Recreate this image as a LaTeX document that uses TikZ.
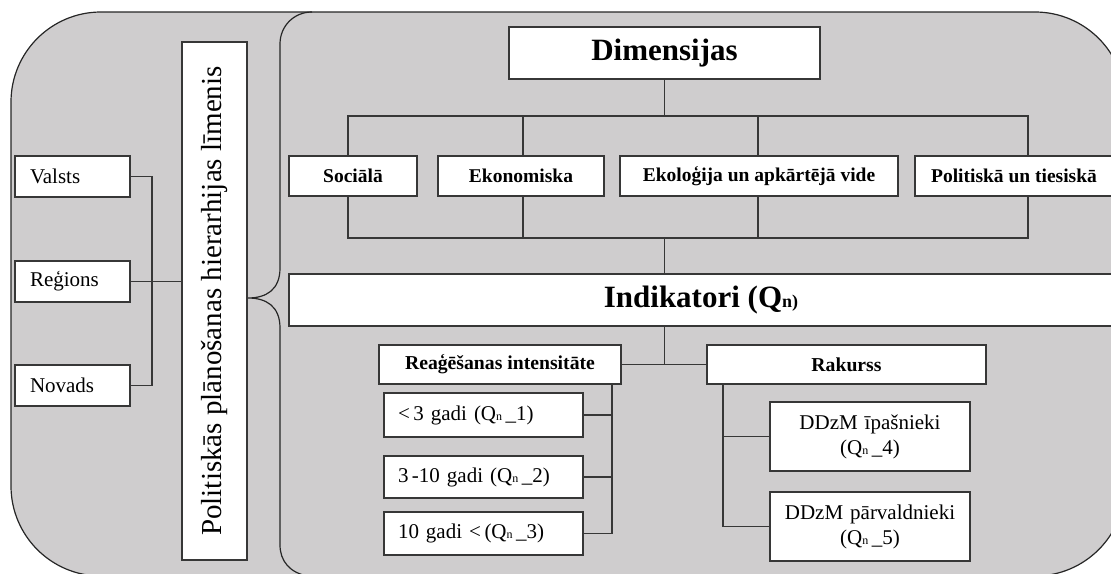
\documentclass[tikz,border=0pt]{standalone}
\usepackage{fontspec}
\setmainfont{Liberation Serif}
\definecolor{panel}{RGB}{207,205,206}
\definecolor{edge}{RGB}{55,55,55}
\newcommand{\qsub}{{\fontsize{12}{12}\selectfont n}}
\begin{document}
\begin{tikzpicture}[x=1pt,y=-1pt,
  box/.style={draw=edge, fill=white, line width=1.1pt, inner sep=0pt, anchor=center},
  conn/.style={draw=edge, line width=1.1pt},
  leftbox/.style={box, minimum width=115pt, minimum height=41pt, text width=85pt, inner xsep=15pt, align=left, font=\fontsize{21}{24}\selectfont},
  dimbox/.style={box, minimum height=40pt, font=\fontsize{19.5}{21}\selectfont\bfseries},
  midbox/.style={box, minimum height=39pt, font=\fontsize{19.7}{21}\selectfont\bfseries},
  gadibox/.style={box, minimum width=199pt, text width=171pt, inner xsep=14pt, align=left, font=\fontsize{21}{24}\selectfont},
  ddzmbox/.style={box, minimum width=200pt, minimum height=69pt, text width=190pt, align=center, font=\fontsize{21}{25}\selectfont}]
\useasboundingbox (0,0) rectangle (1111,573);
\clip (0,0) rectangle (1111,573);
% outer panel
\draw[fill=panel, draw=black!85, line width=1.2pt, rounded corners=90pt] (11,12) rectangle (1125,576);
% inner panel edge with brace
\draw[draw=black!85, line width=1.2pt] (312,12) .. controls (294,12) and (280,26) .. (280,44)
  -- (280,268) .. controls (280,290) and (266,298) .. (248,298)
  .. controls (266,298) and (280,306) .. (280,328)
  -- (280,545) .. controls (280,561) and (290,573) .. (308,576);

% left panel
\node[box, minimum width=518pt, minimum height=65pt, rotate=90, font=\fontsize{29}{30}\selectfont] (plan) at (214.5,301) {Politiskās plānošanas hierarhijas līmenis};
\node[leftbox] (valsts) at (72.5,176.5) {Valsts};
\node[leftbox] (regions) at (72.5,281.5) {Reģions};
\node[leftbox] (novads) at (72.5,385.5) {Novads};
\coordinate (lbus) at (152,0);
\draw[conn] (valsts.east) -- (valsts.east -| lbus) -- (novads.east -| lbus) -- (novads.east);
\draw[conn] (regions.east) -- (regions.east -| plan.north);

% dimensions
\node[box, minimum width=311pt, minimum height=52pt, font=\fontsize{31}{33}\selectfont\bfseries] (dim) at (664.5,53) {Dimensijas};
\node[dimbox, minimum width=128pt] (soc) at (353,176) {Sociālā};
\node[dimbox, minimum width=166pt] (eko) at (521,176) {Ekonomiska};
\node[dimbox, minimum width=278pt] (ekol) at (759,176) {Ekoloģija un apkārtējā vide};
\node[dimbox, minimum width=198pt] (pol) at (1014,176) {Politiskā un tiesiskā};
\node[box, minimum width=824pt, minimum height=52pt] (ind) at (701,300) {\fontsize{31}{33}\selectfont\bfseries Indikatori (Q{\fontsize{18}{18}\selectfont n)}};

\coordinate (tb) at (0,116);
\coordinate (bb) at (0,238);
\coordinate (x1) at (348,0);
\coordinate (x2) at (523,0);
\coordinate (x3) at (758,0);
\coordinate (x4) at (1028,0);
\draw[conn] (dim.south) -- (dim.south |- tb);
\draw[conn] (x1 |- soc.north) -- (x1 |- tb) -- (x4 |- tb) -- (x4 |- pol.north);
\draw[conn] (x2 |- tb) -- (x2 |- eko.north);
\draw[conn] (x3 |- tb) -- (x3 |- ekol.north);
\draw[conn] (x1 |- soc.south) -- (x1 |- bb) -- (x4 |- bb) -- (x4 |- pol.south);
\draw[conn] (x2 |- eko.south) -- (x2 |- bb);
\draw[conn] (x3 |- ekol.south) -- (x3 |- bb);
\draw[conn] (dim.south |- bb) -- (dim.south |- ind.north);

% lower part
\node[midbox, minimum width=242pt] (rea) at (500,364.5) {Reaģēšanas intensitāte};
\node[midbox, minimum width=279pt] (rak) at (846.5,364.5) {Rakurss};
\draw[conn] (dim.south |- ind.south) -- (dim.south |- rea.east);
\draw[conn] (rea.east) -- (rak.west);

\node[gadibox, minimum height=44pt] (g1) at (483.5,415) {<\,3 gadi (Q\qsub\,\_1)};
\node[gadibox, minimum height=42pt] (g2) at (483.5,477) {3\,-10 gadi (Q\qsub\,\_2)};
\node[gadibox, minimum height=43pt] (g3) at (483.5,533.5) {10 gadi <\,(Q\qsub\,\_3)};
\coordinate (gb) at (612,0);
\draw[conn] (gb |- rea.south) -- (gb |- g3.east) -- (g3.east);
\draw[conn] (g1.east) -- (g1.east -| gb);
\draw[conn] (g2.east) -- (g2.east -| gb);

\node[ddzmbox] (d4) at (870,436.5) {DDzM īpašnieki\\(Q\qsub\,\_4)};
\node[ddzmbox] (d5) at (870,526.5) {DDzM pārvaldnieki\\(Q\qsub\,\_5)};
\coordinate (rb) at (723,0);
\draw[conn] (rb |- rak.south) -- (rb |- d5.west) -- (d5.west);
\draw[conn] (d4.west) -- (d4.west -| rb);
\end{tikzpicture}
\end{document}
